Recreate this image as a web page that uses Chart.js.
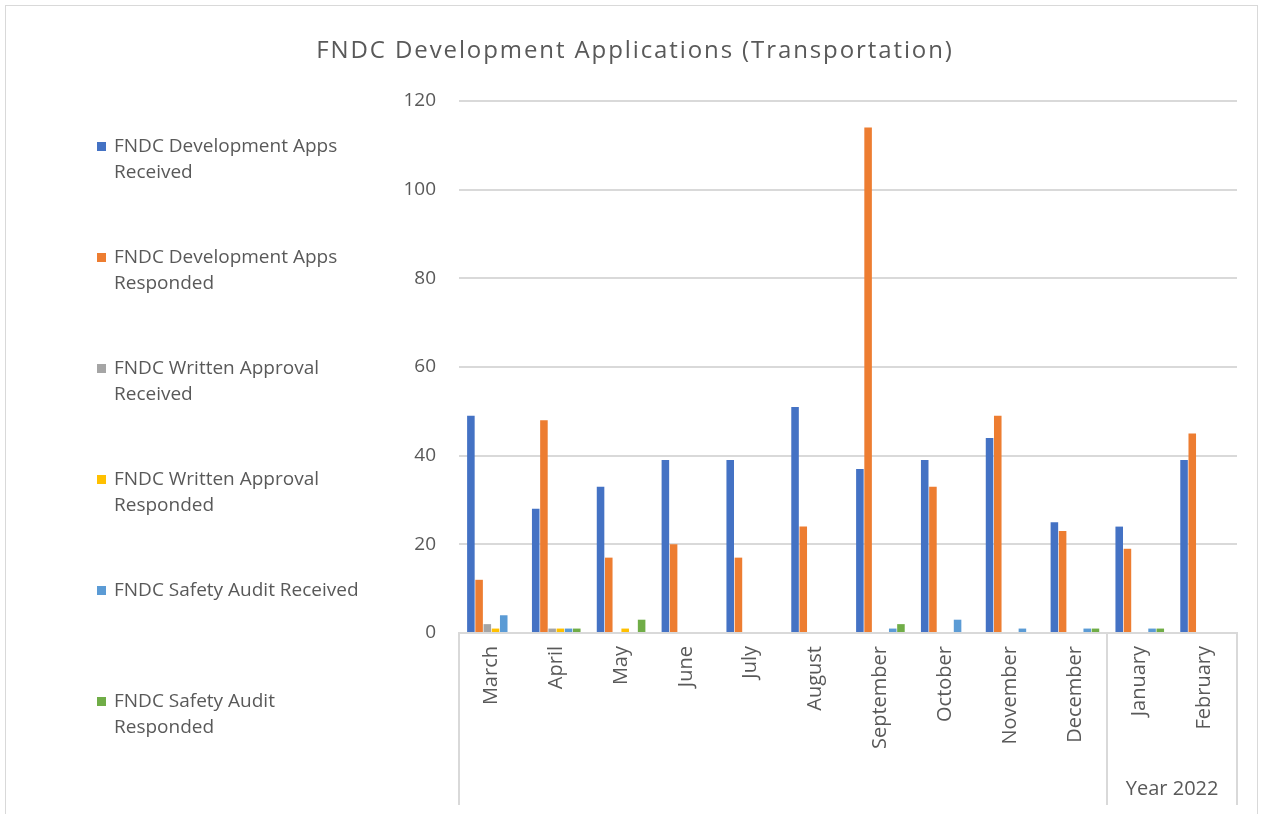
<!DOCTYPE html>
<html>
<head>
<meta charset="utf-8">
<script src="https://cdn.jsdelivr.net/npm/chart.js@4/dist/chart.umd.min.js"></script>
<style>
  html, body { margin: 0; padding: 0; background: #ffffff; }
  #wrap { position: relative; width: 1263px; height: 814px; }
</style>
</head>
<body>
<div id="wrap"><canvas id="c" width="1263" height="814"></canvas></div>
<script>
const chartTitle = "FNDC Development Applications (Transportation)";
const months = ["March", "April", "May", "June", "July", "August", "September", "October", "November", "December", "January", "February"];
const groupLabel = "Year 2022";
const groupStartIndex = 10;
const seriesNames = [
  "FNDC Development Apps Received",
  "FNDC Development Apps Responded",
  "FNDC Written Approval Received",
  "FNDC Written Approval Responded",
  "FNDC Safety Audit Received",
  "FNDC Safety Audit Responded"
];
const devAppsReceived   = [49, 28, 33, 39, 39, 51, 37, 39, 44, 25, 24, 39];
const devAppsResponded  = [12, 48, 17, 20, 17, 24, 114, 33, 49, 23, 19, 45];
const writtenReceived   = [2, 1, 0, 0, 0, 0, 0, 0, 0, 0, 0, 0];
const writtenResponded  = [1, 1, 1, 0, 0, 0, 0, 0, 0, 0, 0, 0];
const safetyReceived    = [4, 1, 0, 0, 0, 0, 1, 3, 1, 1, 1, 0];
const safetyResponded   = [0, 1, 3, 0, 0, 0, 2, 0, 0, 1, 1, 0];
const yTicks = [0, 20, 40, 60, 80, 100, 120];

const seriesValues = [devAppsReceived, devAppsResponded, writtenReceived, writtenResponded, safetyReceived, safetyResponded];
const seriesColors = ["#4472C4", "#ED7D31", "#A5A5A5", "#FFC000", "#5B9BD5", "#70AD47"];

const FONT = "'Open Sans', 'Noto Sans', sans-serif";
const TEXT = "#595959";
const LINE = "#D9D9D9";

const decor = {
  id: "decor",
  beforeDraw(chart) {
    const ctx = chart.ctx;
    ctx.save();
    ctx.fillStyle = "#fff";
    ctx.fillRect(0, 0, chart.width, chart.height);
    ctx.strokeStyle = LINE;
    ctx.lineWidth = 1;
    ctx.strokeRect(5.5, 5.5, 1252, 830);
    ctx.restore();
  },
  afterDraw(chart) {
    const ctx = chart.ctx;
    const area = chart.chartArea;
    const x = chart.scales.x;
    ctx.save();
    // title
    ctx.fillStyle = TEXT;
    ctx.font = "24px " + FONT;
    ctx.letterSpacing = "1.9px";
    ctx.textAlign = "center";
    ctx.textBaseline = "middle";
    ctx.fillText(chartTitle, 635, 51);
    ctx.letterSpacing = "0px";
    // multi-level category separators
    const half = (x.getPixelForValue(1) - x.getPixelForValue(0)) / 2;
    const sepX = [area.left, x.getPixelForValue(groupStartIndex) - half, area.right];
    ctx.strokeStyle = LINE;
    ctx.lineWidth = 2;
    sepX.forEach(px => {
      ctx.beginPath();
      ctx.moveTo(Math.round(px), area.bottom);
      ctx.lineTo(Math.round(px), x.bottom);
      ctx.stroke();
    });
    ctx.font = "20px " + FONT;
    ctx.fillStyle = TEXT;
    ctx.textAlign = "center";
    ctx.fillText(groupLabel, (sepX[1] + sepX[2]) / 2, 789);
    // legend
    ctx.font = "19px " + FONT;
    ctx.textAlign = "left";
    ctx.textBaseline = "middle";
    const maxW = ctx.measureText("FNDC Safety Audit Received").width + 2;
    chart.data.datasets.forEach((ds, i) => {
      const y0 = 147 + i * 111;
      ctx.fillStyle = ds.backgroundColor;
      ctx.fillRect(97, y0 - 5, 9, 9);
      const words = ds.label.split(" ");
      const lines = [];
      let cur = "";
      words.forEach(w => {
        const t = cur ? cur + " " + w : w;
        if (ctx.measureText(t).width > maxW && cur) { lines.push(cur); cur = w; }
        else cur = t;
      });
      lines.push(cur);
      ctx.fillStyle = TEXT;
      lines.forEach((ln, k) => ctx.fillText(ln, 114, y0 + k * 26));
    });
    ctx.restore();
  }
};

new Chart(document.getElementById("c"), {
  type: "bar",
  data: {
    labels: months,
    datasets: seriesNames.map((name, i) => ({
      label: name,
      data: seriesValues[i],
      backgroundColor: seriesColors[i],
      borderWidth: 0,
      categoryPercentage: 0.76,
      barPercentage: 0.92
    }))
  },
  options: {
    responsive: false,
    animation: false,
    devicePixelRatio: 1,
    layout: { padding: { left: 380, top: 101, right: 26, bottom: 9 } },
    plugins: { legend: { display: false }, title: { display: false }, tooltip: { enabled: false } },
    scales: {
      x: {
        grid: { display: false, drawTicks: false },
        border: { display: true, color: LINE, width: 2 },
        ticks: {
          color: TEXT, font: { family: FONT, size: 20 },
          minRotation: 90, maxRotation: 90, padding: 13, autoSkip: false
        },
        afterFit(scale) { scale.height = 172; }
      },
      y: {
        min: 0, max: 120,
        afterBuildTicks(scale) { scale.ticks = yTicks.map(v => ({ value: v })); },
        grid: { color: LINE, lineWidth: 2, drawTicks: false },
        border: { display: false },
        ticks: { color: TEXT, font: { family: FONT, size: 19 }, padding: 23 },
        afterFit(scale) { scale.width = 79; }
      }
    }
  },
  plugins: [decor]
});
</script>
</body>
</html>
